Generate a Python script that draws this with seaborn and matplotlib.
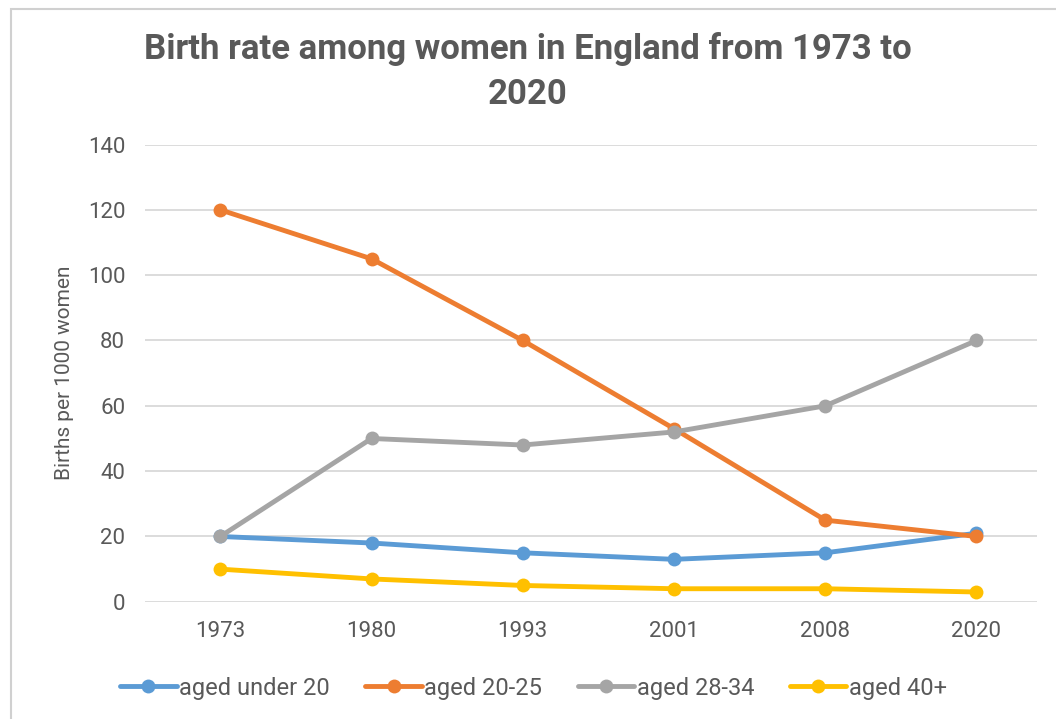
import pandas as pd
import matplotlib.pyplot as plt
import seaborn as sns
from matplotlib.patches import Rectangle

# Data
years = ["1973", "1980", "1993", "2001", "2008", "2020"]
under_20 = [20, 18, 15, 13, 15, 21]
aged_20_25 = [120, 105, 80, 53, 25, 20]
aged_28_34 = [20, 50, 48, 52, 60, 80]
aged_40_plus = [10, 7, 5, 4, 4, 3]
series_names = ["aged under 20", "aged 20-25", "aged 28-34", "aged 40+"]
colors = ["#5B9BD5", "#ED7D31", "#A5A5A5", "#FFC000"]

rows = []
for name, vals in zip(series_names, [under_20, aged_20_25, aged_28_34, aged_40_plus]):
    for y, v in zip(years, vals):
        rows.append({"year": y, "rate": v, "group": name})
df = pd.DataFrame(rows)

sns.set_theme(style="white")
plt.rcParams['font.family'] = ['Roboto', 'DejaVu Sans']
text_gray = "#595959"

fig = plt.figure(figsize=(10.56, 7.19), dpi=100)
ax = fig.add_axes([0.137, 0.163, 0.845, 0.636])

sns.lineplot(data=df, x="year", y="rate", hue="group", palette=colors,
             marker="o", markersize=10, markeredgewidth=0, linewidth=3.5,
             sort=False, ax=ax, legend=True)

ax.set_ylim(0, 140)
ax.set_yticks(range(0, 141, 20))
ax.set_xlim(-0.5, 5.4)
ax.grid(axis="y", color="#D9D9D9", linewidth=1.3)
ax.set_axisbelow(True)
for s in ax.spines.values():
    s.set_visible(False)
ax.tick_params(axis="both", labelsize=16, colors=text_gray, length=0, pad=14)
ax.set_xlabel("")
ax.set_ylabel("Births per 1000 women", fontsize=15, color=text_gray, labelpad=10)

fig.suptitle("Birth rate among women in England from 1973 to\n2020",
             fontsize=25, fontweight="bold", color=text_gray, y=0.955,
             linespacing=1.45)

handles, labels = ax.get_legend_handles_labels()
ax.get_legend().remove()
fig.legend(handles, labels, loc="center", bbox_to_anchor=(0.505, 0.043), ncol=4,
           frameon=False, fontsize=17, handlelength=2.4, handletextpad=0.1,
           columnspacing=1.5, labelcolor=text_gray)

fig.patches.append(Rectangle((0.01, -0.01), 1.0, 0.998, transform=fig.transFigure,
                             fill=False, edgecolor="#D0D0D0", linewidth=1.5))

fig.savefig("out.png", dpi=100)
